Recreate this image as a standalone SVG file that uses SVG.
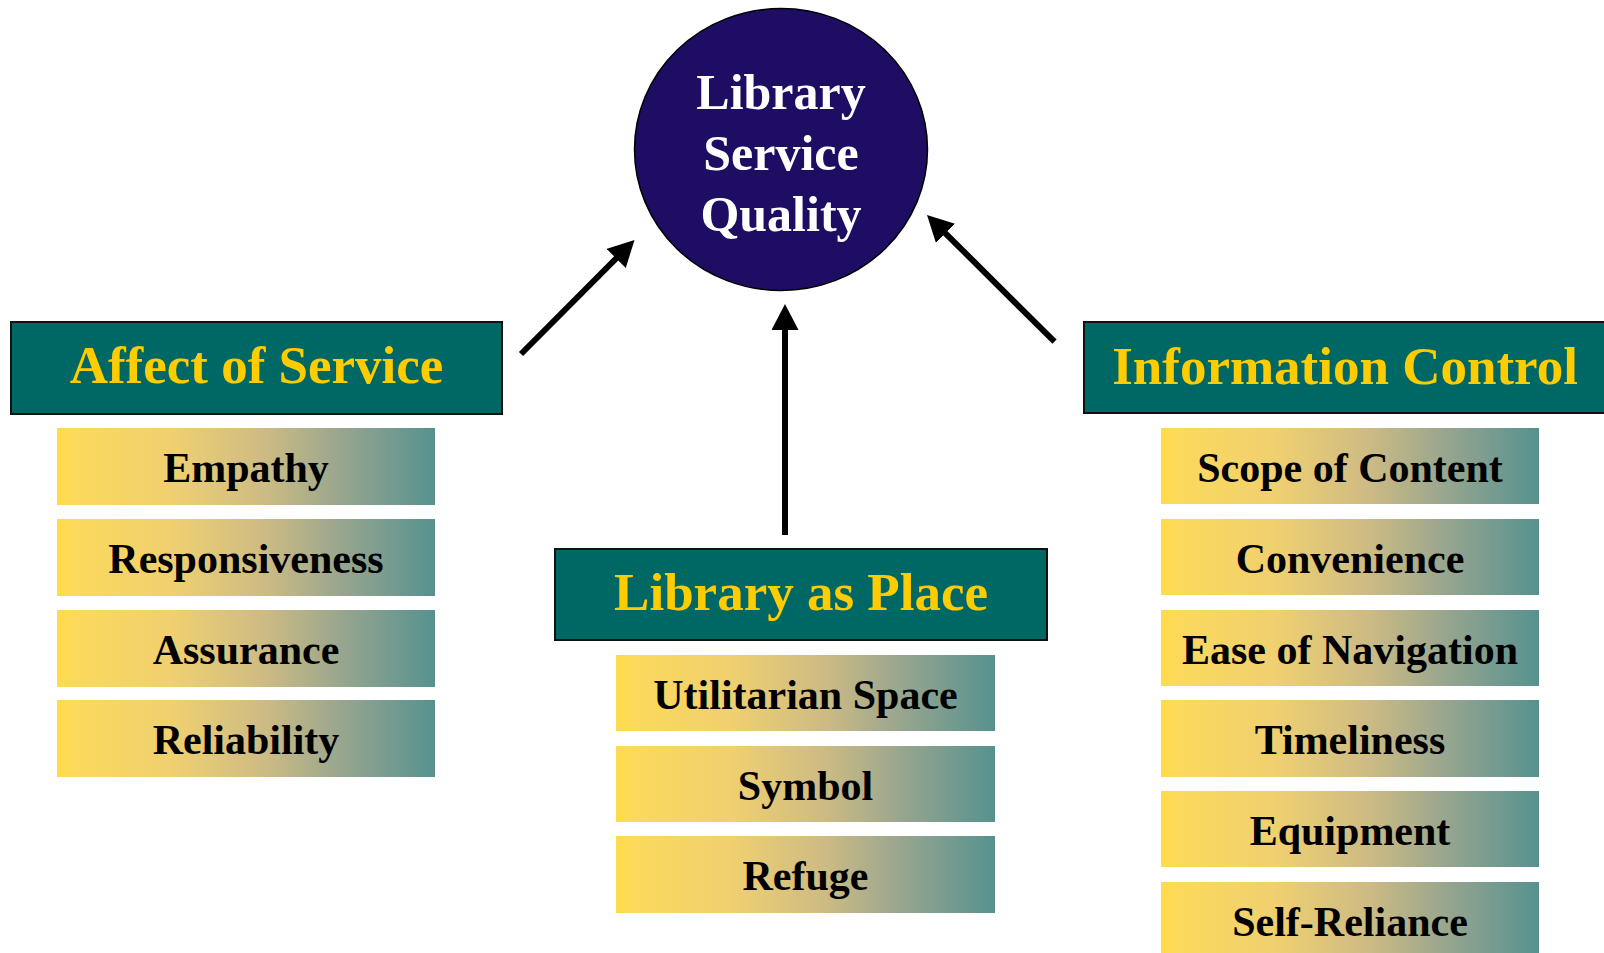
<svg xmlns="http://www.w3.org/2000/svg" width="1604" height="953" viewBox="0 0 1604 953">
<style>
.hdr{fill:#006864;stroke:#111;stroke-width:2}
.htxt{font-family:"Liberation Serif","Times New Roman",serif;font-weight:bold;font-size:53px;fill:#FFCC00;text-anchor:middle}
.item{fill:url(#grad)}
.itxt{font-family:"Liberation Serif","Times New Roman",serif;font-weight:bold;font-size:42px;fill:#000;text-anchor:middle}
.ctxt{font-family:"Liberation Serif","Times New Roman",serif;font-weight:bold;font-size:50px;fill:#fff;text-anchor:middle}
.conn{stroke:#000;stroke-width:6;fill:none;marker-end:url(#arr)}
</style>
<defs>
<linearGradient id="grad" x1="0" y1="0" x2="1" y2="0">
<stop offset="0" stop-color="#FFDC4A"/>
<stop offset="0.05" stop-color="#FBD95C"/>
<stop offset="0.3" stop-color="#F0D070"/>
<stop offset="0.55" stop-color="#CDBB84"/>
<stop offset="0.75" stop-color="#99A68F"/>
<stop offset="1" stop-color="#56918F"/>
</linearGradient>
<marker id="arr" markerUnits="userSpaceOnUse" markerWidth="28" markerHeight="28" refX="6" refY="13.5" orient="auto">
<path d="M0,0 L26,13.5 L0,27 z" fill="#000"/>
</marker>
</defs>
<g id="connectors">
<line class="conn" x1="521" y1="354" x2="620.4" y2="254.2"/>
<line class="conn" x1="785" y1="535" x2="785" y2="324"/>
<line class="conn" x1="1054.5" y1="341.7" x2="941.2" y2="229.1"/>
</g>
<g id="center">
<ellipse cx="781" cy="149.5" rx="146.5" ry="141" fill="#1F0C63" stroke="#000" stroke-width="1.5"/>
<text class="ctxt" x="781" y="108.5">Library</text>
<text class="ctxt" x="781" y="169.5">Service</text>
<text class="ctxt" x="781" y="230.5">Quality</text>
</g>
<g id="affect">
<rect class="hdr" x="11" y="322" width="491" height="92"/>
<text class="htxt" x="256.5" y="383">Affect of Service</text>
</g>
<g id="empathy"><rect class="item" x="57" y="428" width="378" height="77"/><text class="itxt" x="246" y="482">Empathy</text></g>
<g id="responsiveness"><rect class="item" x="57" y="519" width="378" height="77"/><text class="itxt" x="246" y="573">Responsiveness</text></g>
<g id="assurance"><rect class="item" x="57" y="610" width="378" height="77"/><text class="itxt" x="246" y="664">Assurance</text></g>
<g id="reliability"><rect class="item" x="57" y="700" width="378" height="77"/><text class="itxt" x="246" y="754">Reliability</text></g>
<g id="place">
<rect class="hdr" x="555" y="549" width="492" height="91"/>
<text class="htxt" x="801" y="610">Library as Place</text>
</g>
<g id="utilitarian"><rect class="item" x="616" y="655" width="379" height="76"/><text class="itxt" x="805.5" y="709">Utilitarian Space</text></g>
<g id="symbol"><rect class="item" x="616" y="746" width="379" height="76"/><text class="itxt" x="805.5" y="800">Symbol</text></g>
<g id="refuge"><rect class="item" x="616" y="836" width="379" height="77"/><text class="itxt" x="805.5" y="890">Refuge</text></g>
<g id="information">
<rect class="hdr" x="1084" y="322" width="530" height="91"/>
<text class="htxt" x="1345" y="384">Information Control</text>
</g>
<g id="scope"><rect class="item" x="1161" y="428" width="378" height="76"/><text class="itxt" x="1350" y="482">Scope of Content</text></g>
<g id="convenience"><rect class="item" x="1161" y="519" width="378" height="76"/><text class="itxt" x="1350" y="573">Convenience</text></g>
<g id="navigation"><rect class="item" x="1161" y="610" width="378" height="76"/><text class="itxt" x="1350" y="664">Ease of Navigation</text></g>
<g id="timeliness"><rect class="item" x="1161" y="700" width="378" height="77"/><text class="itxt" x="1350" y="754">Timeliness</text></g>
<g id="equipment"><rect class="item" x="1161" y="791" width="378" height="76"/><text class="itxt" x="1350" y="845">Equipment</text></g>
<g id="selfreliance"><rect class="item" x="1161" y="882" width="378" height="76"/><text class="itxt" x="1350" y="936">Self-Reliance</text></g>
</svg>
